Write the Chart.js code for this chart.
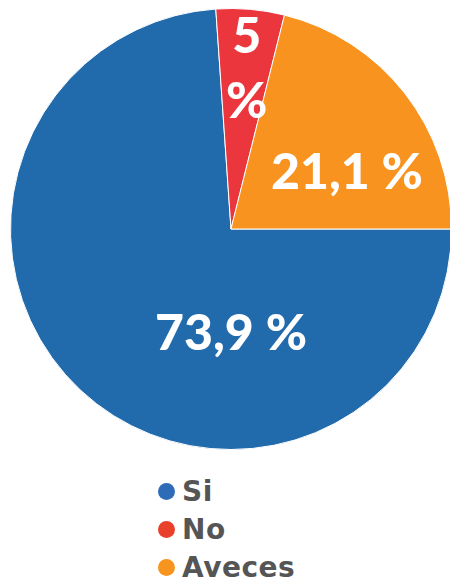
<!DOCTYPE html>
<html>
<head>
<meta charset="utf-8">
<script src="https://cdn.jsdelivr.net/npm/chart.js@4"></script>
<style>
  html, body { margin: 0; padding: 0; background: #fff; overflow: hidden; width: 450px; height: 583px; }
  #wrap { position: absolute; left: 0; top: 0; width: 462px; height: 458px; }
  #legend { position: absolute; left: 158px; top: 474px; font-family: "DejaVu Sans", sans-serif; font-weight: 700; font-size: 28px; letter-spacing: 0.5px; color: #555; }
  #legend div { height: 38px; line-height: 36px; white-space: nowrap; }
  #legend span { display: inline-block; width: 17px; height: 17px; border-radius: 50%; margin-right: 7px; vertical-align: 1px; }
</style>
</head>
<body>
<div id="wrap"><canvas id="myChart"></canvas></div>
<div id="legend"></div>
<script>
var categories = ['Si', 'No', 'Aveces'];
var values = [73.9, 5, 21.1];
var valueLabels = [['73,9 %'], ['5', '%'], ['21,1 %']];
var colors = ['rgb(33, 106, 172)', 'rgb(236, 54, 62)', 'rgb(247, 147, 30)'];
var legendColors = ['rgb(46, 108, 184)', 'rgb(232, 64, 42)', 'rgb(247, 148, 30)'];

// where each label sits: angle (deg clockwise from top) and distance as share of radius
var labelSpots = [{ a: 180, r: 0.46 }, { a: 5.5, r: 0.74 }, { a: 63, r: 0.59 }];

var sliceLabels = {
  id: 'sliceLabels',
  afterDatasetsDraw: function (chart) {
    var ctx = chart.ctx;
    var arcs = chart.getDatasetMeta(0).data;
    ctx.save();
    ctx.fillStyle = '#fff';
    ctx.font = '900 50px Lato, "Open Sans", sans-serif';
    ctx.textAlign = 'center';
    ctx.textBaseline = 'middle';
    arcs.forEach(function (arc, i) {
      var spot = labelSpots[i];
      var ang = (spot.a - 90) * Math.PI / 180;
      var x = arc.x + Math.cos(ang) * arc.outerRadius * spot.r;
      var y = arc.y + Math.sin(ang) * arc.outerRadius * spot.r + 3;
      var lines = valueLabels[i];
      var lh = 65;
      lines.forEach(function (t, k) {
        ctx.fillText(t, x, y + (k - (lines.length - 1) / 2) * lh);
      });
    });
    ctx.restore();
  }
};

var ctx = document.getElementById('myChart').getContext('2d');
var myChart = new Chart(ctx, {
  type: 'pie',
  data: {
    labels: categories,
    datasets: [{
      data: values,
      backgroundColor: colors,
      borderColor: '#fff',
      borderWidth: 1
    }]
  },
  options: {
    responsive: true,
    maintainAspectRatio: false,
    animation: false,
    rotation: 90,
    layout: { padding: { top: 8, bottom: 8, left: 10, right: 10 } },
    plugins: {
      legend: { display: false },
      tooltip: { enabled: false }
    }
  },
  plugins: [sliceLabels]
});

var legendEl = document.getElementById('legend');
categories.forEach(function (c, i) {
  var row = document.createElement('div');
  var dot = document.createElement('span');
  dot.style.background = legendColors[i];
  row.appendChild(dot);
  row.appendChild(document.createTextNode(c));
  legendEl.appendChild(row);
});
</script>
</body>
</html>
